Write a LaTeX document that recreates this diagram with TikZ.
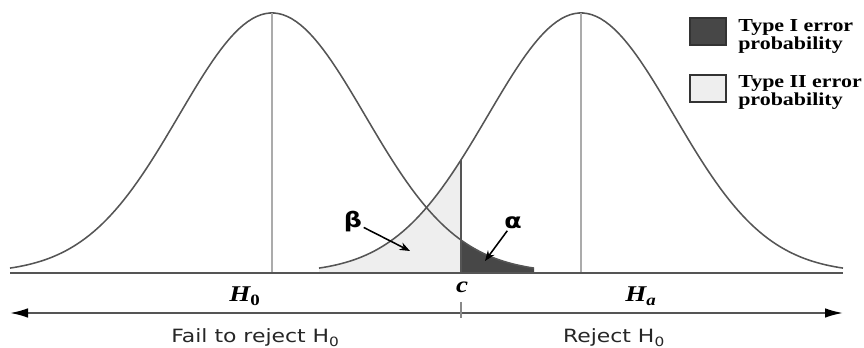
\documentclass[tikz,border=0pt]{standalone}
\usepackage{fontspec}
\setmainfont{Liberation Serif}[FakeStretch=1.2]
\newfontfamily\widesans{DejaVu Sans}[FakeStretch=1.2]
\usetikzlibrary{arrows.meta}

\definecolor{curvegray}{HTML}{555555}
\definecolor{peakgray}{HTML}{ABABAB}
\definecolor{alphafill}{HTML}{474747}
\definecolor{betafill}{HTML}{EEEEEE}

\tikzset{
  curve/.style={curvegray, line width=1.1pt},
  peakline/.style={peakgray, line width=1.7pt},
  pointer/.style={-{Stealth[length=2.6mm,width=2mm]}, line width=1.1pt, black},
  legendbox/.style={draw=black!80, line width=1.1pt, minimum width=0.9cm, minimum height=0.675cm, inner sep=0},
  legendtext/.style={font=\fontsize{13}{12.8}\selectfont\bfseries, align=left, inner sep=0, anchor=west},
  hyplabel/.style={font=\fontsize{16}{18}\selectfont\bfseries\itshape, inner sep=0, anchor=base},
  decision/.style={font=\widesans\fontsize{13}{15}\selectfont, text=black!85, inner sep=0, anchor=base},
  greek/.style={font=\widesans\fontsize{15}{17}\selectfont\bfseries, inner sep=1pt}
}

\begin{document}
\begin{tikzpicture}[x=0.025cm, y=0.025cm,
  declare function={nd(\x,\m)=260*exp(-0.5*pow((\x-\m)/93,2));}]
  \useasboundingbox (0,0) rectangle (864,348);

  % error areas
  \fill[betafill] (319,75) -- plot[domain=319:461, samples=60] (\x,{75+nd(\x,581)}) -- (461,75) -- cycle;
  \fill[alphafill] (461,75) -- plot[domain=461:534, samples=40] (\x,{75+nd(\x,272)}) -- (534,75) -- cycle;

  % the two bells
  \draw[curve] plot[domain=10:534, samples=120] (\x,{75+nd(\x,272)});
  \draw[curve] plot[domain=319:843, samples=120] (\x,{75+nd(\x,581)});

  % means and critical value
  \draw[peakline] (272,75) -- (272,335);
  \draw[peakline] (581,75) -- (581,335);
  \draw[curvegray, line width=1.2pt] (461,75) -- (461,{75+nd(461,581)});
  \draw[curvegray, line width=1.4pt] (10,75) -- (843,75);

  % alpha and beta
  \node[greek] (beta) at (353,126) {β};
  \coordinate (betatip) at (410,97);
  \draw[pointer] (beta) -- (betatip);
  \node[greek] (alpha) at (513,125) {α};
  \coordinate (alphatip) at (485,87);
  \draw[pointer] (alpha) -- (alphatip);

  % labels on the axis
  \node[hyplabel] (hnull) at (245,46.3) {H\textsubscript{\upshape 0}};
  \node[hyplabel] (halt) at (641,46.3) {H\textsubscript{a}};
  \node[hyplabel] (crit) at (462,55) {c};

  % decision line
  \coordinate (axisleft) at (10,35);
  \coordinate (axisright) at (843,35);
  \draw[curvegray, line width=1.3pt, {Latex[length=4.5mm,width=2.4mm,black]}-{Latex[length=4.5mm,width=2.4mm,black]}] (axisleft) -- (axisright);
  \draw[peakgray!80!black, line width=0.9pt] (461,46) -- (461,30);
  \node[decision] (failreject) at (255.5,5.5) {Fail to reject H\textsubscript{0}};
  \node[decision] (reject) at (614,5.5) {Reject H\textsubscript{0}};

  % legend
  \node[legendbox, fill=alphafill] (typeonebox) at (708,316.5) {};
  \node[legendtext] (typeone) at (738,312) {Type I error\\probability};
  \node[legendbox, fill=betafill] (typetwobox) at (708,259.5) {};
  \node[legendtext] (typetwo) at (738,255.5) {Type II error\\probability};
\end{tikzpicture}
\end{document}
